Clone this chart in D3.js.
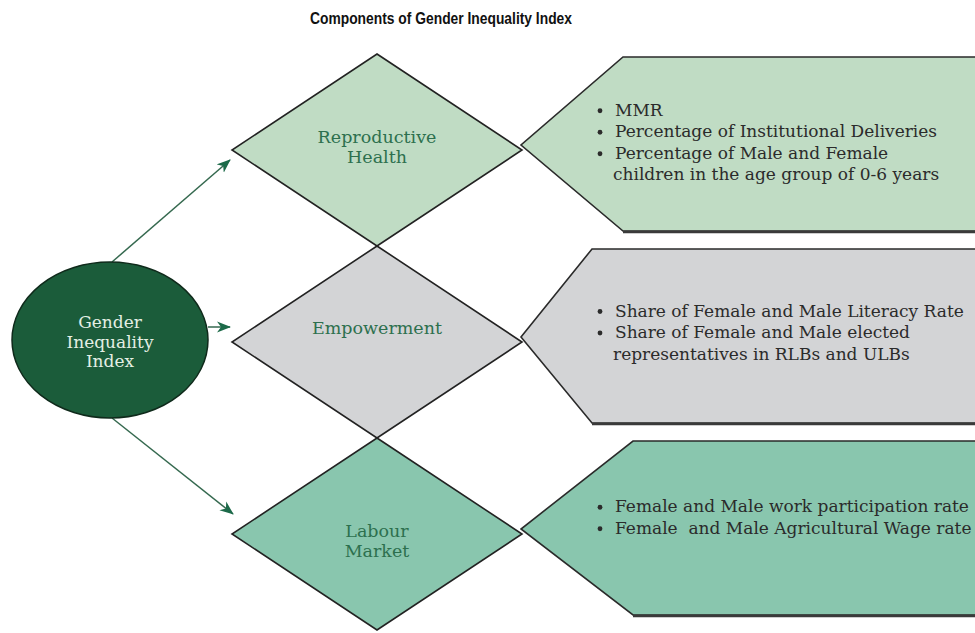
<!DOCTYPE html>
<html>
<head>
<meta charset="utf-8">
<script src="https://cdn.jsdelivr.net/npm/d3@7"></script>
<style>
  body { margin: 0; background: #fff; }
  svg { display: block; }
</style>
</head>
<body>
<div id="chart"></div>
<script>
// data
var title = "Components of Gender Inequality Index";
var centerLabel = ["Gender", "Inequality", "Index"];
var components = ["Reproductive Health", "Empowerment", "Labour Market"];
var componentLines = [["Reproductive", "Health"], ["Empowerment"], ["Labour", "Market"]];
var indicators = [
  [["MMR"], ["Percentage of Institutional Deliveries"], ["Percentage of Male and Female", "children in the age group of 0-6 years"]],
  [["Share of Female and Male Literacy Rate"], ["Share of Female and Male elected", "representatives in RLBs and ULBs"]],
  [["Female and Male work participation rate"], ["Female  and Male Agricultural Wage rate"]]
];
var fills = ["#c0dcc4", "#d3d4d6", "#89c6ae"];

// layout tweaks per row (label shift, text shift, box notch)
var labelShift = [-1, -12, 9];
var textShift = [0, -2, -9];
var notch = [102, 71, 112];

var width = 975;
var height = 633;

var svg = d3.select("#chart")
  .append("svg")
  .attr("width", width)
  .attr("height", height);

var defs = svg.append("defs");
defs.append("marker")
  .attr("id", "head")
  .attr("viewBox", "0 -6 14 12")
  .attr("refX", 13)
  .attr("refY", 0)
  .attr("markerWidth", 14)
  .attr("markerHeight", 12)
  .attr("markerUnits", "userSpaceOnUse")
  .attr("orient", "auto")
  .append("path")
  .attr("d", "M0,-5.5L14,0L0,5.5L4,0Z")
  .attr("fill", "#1c6a49");

// layout scales
var y = d3.scaleBand().domain(components).range([54, 630]).padding(0);
var dx = 377, dHalfW = 145;
var boxTip = 521, boxRight = 990;

// title
svg.append("text")
  .attr("x", 441)
  .attr("y", 24)
  .attr("text-anchor", "middle")
  .attr("font-family", "'Liberation Sans', Arial, sans-serif")
  .attr("font-weight", "bold")
  .attr("font-size", 16.5)
  .attr("textLength", 262)
  .attr("lengthAdjust", "spacingAndGlyphs")
  .attr("fill", "#111")
  .text(title);

// indicator boxes
var boxes = svg.selectAll("g.box").data(components).enter()
  .append("g").attr("class", "box");

boxes.append("path")
  .attr("d", function(d, i) {
    var c = y(d) + y.bandwidth() / 2 - 5;
    var top = c - 88, bot = c + 86;
    return "M" + boxRight + "," + top + "L" + (boxTip + notch[i]) + "," + top +
      "L" + boxTip + "," + c + "L" + (boxTip + notch[i]) + "," + bot + "L" + boxRight + "," + bot;
  })
  .attr("fill", function(d, i) { return fills[i]; })
  .attr("stroke", "#2a2a2a")
  .attr("stroke-width", 1.6);

// thicker bottom edge
boxes.append("line")
  .attr("x1", function(d, i) { return boxTip + notch[i]; })
  .attr("x2", boxRight)
  .attr("y1", function(d) { return y(d) + y.bandwidth() / 2 + 82; })
  .attr("y2", function(d) { return y(d) + y.bandwidth() / 2 + 82; })
  .attr("stroke", "#3a3a3a")
  .attr("stroke-width", 2.5);

boxes.each(function(d, i) {
  var g = d3.select(this);
  var lines = [];
  indicators[i].forEach(function(item) {
    item.forEach(function(t, j) { lines.push({ t: t, bullet: j === 0 }); });
  });
  var lh = 21.5;
  var c = y(d) + y.bandwidth() / 2 - 8 + textShift[i];
  var first = c - (lines.length - 1) * lh / 2 + 6;
  lines.forEach(function(l, k) {
    var yy = first + k * lh;
    if (l.bullet) {
      g.append("circle")
        .attr("cx", 600)
        .attr("cy", yy - 5)
        .attr("r", 2.4)
        .attr("fill", "#2b2b2b");
    }
    g.append("text")
      .attr("x", l.bullet ? 615 : 613)
      .attr("y", yy)
      .attr("font-family", "'DejaVu Serif', serif")
      .attr("font-size", 17)
      .attr("fill", "#2b2b2b")
      .style("white-space", "pre")
      .text(l.t);
  });
});

// diamonds
var diamonds = svg.selectAll("g.diamond").data(components).enter()
  .append("g").attr("class", "diamond");

diamonds.append("path")
  .attr("d", function(d) {
    var t = y(d), b = y(d) + y.bandwidth(), c = (t + b) / 2;
    return "M" + dx + "," + t + "L" + (dx + dHalfW) + "," + c + "L" + dx + "," + b +
      "L" + (dx - dHalfW) + "," + c + "Z";
  })
  .attr("fill", function(d, i) { return fills[i]; })
  .attr("stroke", "#222")
  .attr("stroke-width", 1.6);

diamonds.each(function(d, i) {
  var ls = componentLines[i];
  var c = y(d) + y.bandwidth() / 2 + labelShift[i] - 2;
  d3.select(this).selectAll("text").data(ls).enter()
    .append("text")
    .attr("x", dx)
    .attr("y", function(t, k) { return c + 6 + (k - (ls.length - 1) / 2) * 20; })
    .attr("text-anchor", "middle")
    .attr("font-family", "'DejaVu Serif', serif")
    .attr("font-size", 17.5)
    .attr("fill", "#2d704e")
    .text(function(t) { return t; });
});

// central ellipse
var cx = 110, cy = 340, rx = 98, ry = 78;

var arrows = [
  [cx + 2, cy - ry, dx - dHalfW - 2, y(components[0]) + y.bandwidth() / 2 + 10],
  [cx + rx, cy - 13, dx - dHalfW - 2, cy - 13],
  [cx + 2, cy + ry, dx - dHalfW + 1, y(components[2]) + y.bandwidth() / 2 - 20]
];
svg.selectAll("line.arrow").data(arrows).enter()
  .append("line")
  .attr("class", "arrow")
  .attr("x1", function(a) { return a[0]; })
  .attr("y1", function(a) { return a[1]; })
  .attr("x2", function(a) { return a[2]; })
  .attr("y2", function(a) { return a[3]; })
  .attr("stroke", "#35694f")
  .attr("stroke-width", 1.5)
  .attr("marker-end", "url(#head)");

svg.append("ellipse")
  .attr("cx", cx)
  .attr("cy", cy)
  .attr("rx", rx)
  .attr("ry", ry)
  .attr("fill", "#1b5c3a")
  .attr("stroke", "#0f2a1b")
  .attr("stroke-width", 1.5);

svg.selectAll("text.center").data(centerLabel).enter()
  .append("text")
  .attr("class", "center")
  .attr("x", cx)
  .attr("y", function(t, k) { return 328 + k * 19.5; })
  .attr("text-anchor", "middle")
  .attr("font-family", "'DejaVu Serif', serif")
  .attr("font-size", 17)
  .attr("fill", "#e4efe4")
  .text(function(t) { return t; });
</script>
</body>
</html>
